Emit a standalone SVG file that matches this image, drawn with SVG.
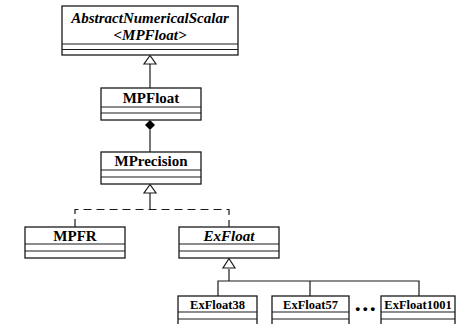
<svg xmlns="http://www.w3.org/2000/svg" width="462" height="324" viewBox="0 0 462 324">
<style>
.box{fill:#fff;stroke:#1a1a1a;stroke-width:1.3}
.sep{stroke:#1a1a1a;stroke-width:1.2}
.t{font-family:"Liberation Serif","Times New Roman",serif;font-weight:bold;font-size:15px;fill:#000;text-anchor:middle}
.i{font-style:italic}
.s{font-size:12.5px}
.ln{fill:none;stroke:#1a1a1a;stroke-width:1.2}
.tri{fill:#fff;stroke:#1a1a1a;stroke-width:1.2}
</style>
<rect width="462" height="324" fill="#fff"/>
<g id="connectors">
<path class="ln" d="M150,64 V88"/>
<polygon class="tri" points="150,55.5 144,64 156,64"/>
<path class="ln" d="M150,130 V152"/>
<polygon points="150,120 155,125 150,130 145,125" fill="#000"/>
<path class="ln" d="M150,193 V209.5"/>
<polygon class="tri" points="150,184.5 144,193 156,193"/>
<path class="ln" d="M75,227 V209.5 H229 V227" stroke-dasharray="8,5"/>
<path class="ln" d="M229,269 V281" stroke-width="2"/>
<polygon class="tri" points="229,258.5 223,268 235,268"/>
<path class="ln" d="M218,296 V281 H419 V296 M310,281 V296"/>
</g>
<g id="AbstractNumericalScalar">
<rect class="box" x="62" y="6" width="176" height="49"/>
<line class="sep" x1="62" y1="44" x2="238" y2="44"/>
<line class="sep" x1="62" y1="49.5" x2="238" y2="49.5"/>
<text class="t i" x="150" y="23">AbstractNumericalScalar</text>
<text class="t i" x="150" y="40">&lt;MPFloat&gt;</text>
</g>
<g id="MPFloat">
<rect class="box" x="101" y="88" width="100" height="32"/>
<line class="sep" x1="101" y1="107" x2="201" y2="107"/>
<line class="sep" x1="101" y1="113" x2="201" y2="113"/>
<text class="t" x="151" y="103">MPFloat</text>
</g>
<g id="MPrecision">
<rect class="box" x="101" y="152" width="100" height="32"/>
<line class="sep" x1="101" y1="170" x2="201" y2="170"/>
<line class="sep" x1="101" y1="177" x2="201" y2="177"/>
<text class="t" x="151" y="166">MPrecision</text>
</g>
<g id="MPFR">
<rect class="box" x="25" y="227" width="100" height="31"/>
<line class="sep" x1="25" y1="244" x2="125" y2="244"/>
<line class="sep" x1="25" y1="251" x2="125" y2="251"/>
<text class="t" x="75" y="241">MPFR</text>
</g>
<g id="ExFloat">
<rect class="box" x="179" y="227" width="100" height="31"/>
<line class="sep" x1="179" y1="244" x2="279" y2="244"/>
<line class="sep" x1="179" y1="251" x2="279" y2="251"/>
<text class="t i" x="229" y="241">ExFloat</text>
</g>
<g id="ExFloat38">
<rect class="box" x="178" y="296" width="79" height="34"/>
<line class="sep" x1="178" y1="312" x2="257" y2="312"/>
<line class="sep" x1="178" y1="319" x2="257" y2="319"/>
<text class="t s" x="217.5" y="309">ExFloat38</text>
</g>
<g id="ExFloat57">
<rect class="box" x="272" y="296" width="77" height="34"/>
<line class="sep" x1="272" y1="312" x2="349" y2="312"/>
<line class="sep" x1="272" y1="319" x2="349" y2="319"/>
<text class="t s" x="310.5" y="309">ExFloat57</text>
</g>
<g id="dots">
<text class="t" x="366" y="311" style="font-size:24px;letter-spacing:1.5px">...</text>
</g>
<g id="ExFloat1001">
<rect class="box" x="381" y="296" width="74" height="34"/>
<line class="sep" x1="381" y1="312" x2="455" y2="312"/>
<line class="sep" x1="381" y1="319" x2="455" y2="319"/>
<text class="t s" x="418" y="309">ExFloat1001</text>
</g>
</svg>
